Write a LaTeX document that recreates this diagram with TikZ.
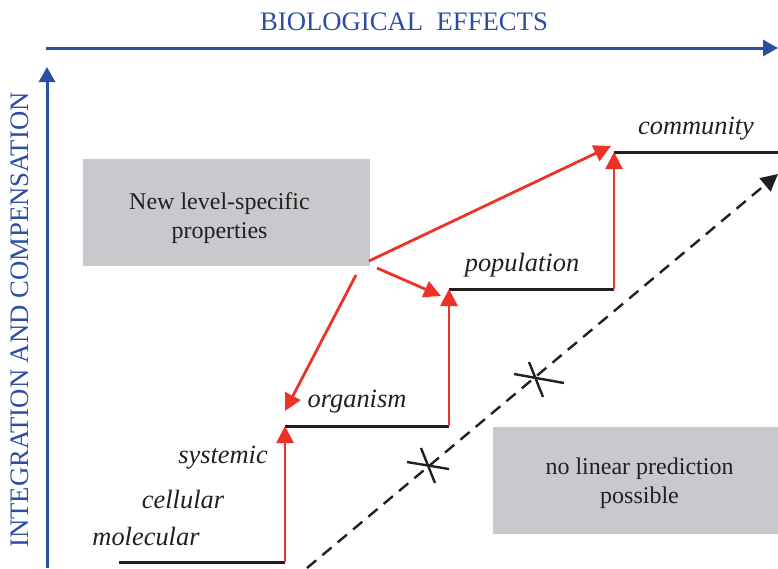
\documentclass[tikz,border=0pt]{standalone}
\usepackage{fontspec}
\setmainfont{Liberation Serif}
\usetikzlibrary{arrows.meta}
\definecolor{axisblue}{HTML}{2B4EA2}
\definecolor{stepred}{HTML}{ED3227}
\definecolor{boxgray}{HTML}{C8C9CC}
\definecolor{ink}{HTML}{231F20}
\begin{document}
\begin{tikzpicture}[x=1pt,y=-1pt,
  axis/.style={draw=axisblue,line width=3pt,-{Triangle[length=15pt,width=16pt]}},
  level/.style={draw=ink,line width=3pt},
  rise/.style={draw=stepred,line width=2.8pt,-{Triangle[length=17pt,width=17pt]}},
  trend/.style={draw=ink,line width=2.4pt,dash pattern=on 12pt off 8pt,-{Triangle[length=17pt,width=17pt]}},
  tick/.style={draw=ink,line width=2.4pt},
  graybox/.style={fill=boxgray,inner sep=0pt},
  boxtext/.style={align=center,text=ink,inner sep=0pt,font=\fontsize{24}{29}\selectfont},
  lvl/.style={text=ink,font=\fontsize{26.4}{30}\selectfont\itshape,inner sep=0pt},
  axislabel/.style={text=axisblue,font=\fontsize{26.7}{30}\selectfont,inner sep=0pt}]
\useasboundingbox (0,0) rectangle (778,568);
% axes
\coordinate (origin) at (47,568);
\coordinate (xstart) at (45.5,48);
\coordinate (xend) at (778,48);
\coordinate (yend) at (47,67);
\draw[axis] (xstart) -- (xend);
\draw[axis] (origin) -- (yend);
\node[axislabel] (title) at (404,22) {BIOLOGICAL\hspace{0.5em}EFFECTS};
\node[axislabel,rotate=90] (ylabel) at (20,320) {INTEGRATION AND COMPENSATION};
% boxes
\node[graybox,minimum width=287pt,minimum height=107pt] (props) at (226.5,212.5) {};
\node[boxtext] (propstext) at (219.5,218) {New level-specific\\properties};
\node[graybox,minimum width=285pt,minimum height=107pt] (nolin) at (635.5,480.5) {};
\node[boxtext] (nolintext) at (639.5,483) {no linear prediction\\possible};
% staircase corners
\coordinate (m0) at (119,562);
\coordinate (m1) at (285,562);
\coordinate (o0) at (285,426);
\coordinate (o1) at (449,426);
\coordinate (p0) at (449,289);
\coordinate (p1) at (614,289);
\coordinate (c0) at (614,152);
\coordinate (c1) at (778,152);
\draw[level] (m0) -- (m1);
\draw[level] (o0) -- (o1);
\draw[level] (p0) -- (p1);
\draw[level] (c0) -- (c1);
\draw[rise] (m1) -- (o0);
\draw[rise] (o1) -- (p0);
\draw[rise] (p1) -- (c0);
% arrows from the box
\coordinate (s1) at (369,261);
\coordinate (s2) at (377,268);
\coordinate (s3) at (356,275);
\coordinate (t1) at (611,146);
\coordinate (t2) at (441,296);
\coordinate (t3) at (285,411);
\draw[rise] (s1) -- (t1);
\draw[rise] (s2) -- (t2);
\draw[rise] (s3) -- (t3);
% dashed trend
\coordinate (d0) at (307,568);
\coordinate (d1) at (778,174);
\draw[trend] (d0) -- (d1);
\coordinate (xa1) at (407,462); \coordinate (xa2) at (449,469);
\coordinate (xa3) at (421,448); \coordinate (xa4) at (435,483);
\coordinate (xb1) at (514,374); \coordinate (xb2) at (564,383);
\coordinate (xb3) at (529,362); \coordinate (xb4) at (543,397);
\draw[tick] (xa1) -- (xa2);
\draw[tick] (xa3) -- (xa4);
\draw[tick] (xb1) -- (xb2);
\draw[tick] (xb3) -- (xb4);
% level labels
\node[lvl] (community) at (696,129) {community};
\node[lvl] (population) at (522,265) {population};
\node[lvl] (organism) at (357,402) {organism};
\node[lvl] (systemic) at (223,458) {systemic};
\node[lvl] (cellular) at (183,499) {cellular};
\node[lvl] (molecular) at (146,536) {molecular};
\end{tikzpicture}
\end{document}
